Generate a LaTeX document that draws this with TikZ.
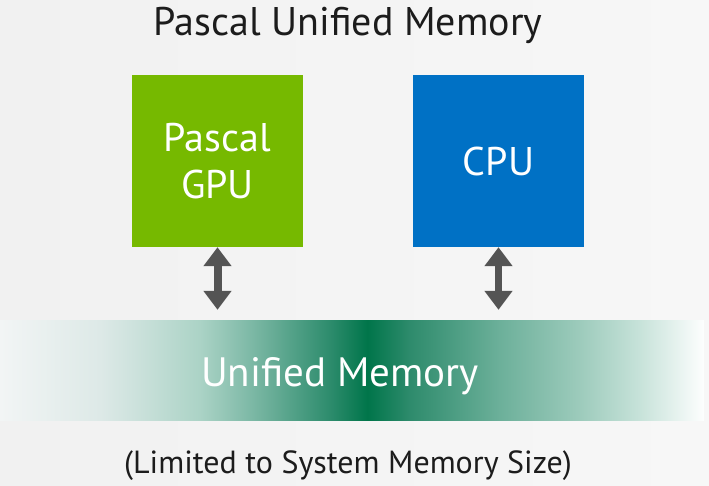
\documentclass[tikz,border=0pt]{standalone}
\usepackage{fontspec}
\setmainfont{PT Sans}
\usetikzlibrary{arrows.meta}

\definecolor{nvgreen}{HTML}{76B900}
\definecolor{cpublue}{HTML}{0071C5}
\definecolor{bgleft}{HTML}{F1F1F1}
\definecolor{bgright}{HTML}{F7F7F7}
\definecolor{arrowgray}{HTML}{545454}
\definecolor{textdark}{HTML}{1C1C1C}

% green band, dark in the middle, fading out to both sides
\pgfdeclarehorizontalshading{umshade}{100bp}{
  rgb(0bp)=(0.949,0.961,0.961);
  rgb(25bp)=(0.949,0.961,0.961);
  rgb(32.1bp)=(0.867,0.914,0.906);
  rgb(34.2bp)=(0.812,0.890,0.871);
  rgb(39.2bp)=(0.671,0.827,0.776);
  rgb(42.8bp)=(0.490,0.725,0.651);
  rgb(48.4bp)=(0.180,0.549,0.427);
  rgb(51.1bp)=(0,0.459,0.290);
  rgb(54.1bp)=(0.180,0.545,0.424);
  rgb(60.5bp)=(0.424,0.690,0.604);
  rgb(66.2bp)=(0.616,0.796,0.737);
  rgb(70.5bp)=(0.784,0.890,0.855);
  rgb(75bp)=(0.992,0.996,0.996);
  rgb(100bp)=(0.992,0.996,0.996)}

\tikzset{
  chip/.style={rectangle, inner sep=0pt, minimum width=171pt, minimum height=172pt,
    text=white, align=center, font=\fontsize{40}{47}\selectfont},
  busarrow/.style={draw=arrowgray, line width=8pt,
    {Triangle[width=27pt,length=19pt]}-{Triangle[width=27pt,length=19pt]}},
}

\begin{document}
\begin{tikzpicture}[x=1pt, y=-1pt]
\useasboundingbox (0,0) rectangle (709,485);
\shade[left color=bgleft, right color=bgright] (0,0) rectangle (709,485);

\node[anchor=base, text=textdark, font=\fontsize{40}{46}\selectfont] (title) at (348,35) {Pascal Unified Memory};

\node[chip, fill=nvgreen] (gpu) at (217.5,161) {Pascal\\GPU};
\node[chip, fill=cpublue] (cpu) at (498.5,161) {CPU};

\node[rectangle, inner sep=0pt, minimum width=704pt, minimum height=100pt,
  shading=umshade,
  label={[xshift=-12pt, yshift=-6pt, text=white,
    font=\fontsize{41}{46}\selectfont]center:Unified Memory}] (mem) at (352,370) {};

\draw[busarrow, shorten >=10pt] (gpu.south) -- (gpu.south |- mem.north);
\draw[busarrow, line width=7pt, shorten >=10pt] (cpu.south) -- (cpu.south |- mem.north);

\node[anchor=base, text=textdark, font=\fontsize{32}{38}\selectfont] (note) at (348,473) {(Limited to System Memory Size)};

\end{tikzpicture}
\end{document}
